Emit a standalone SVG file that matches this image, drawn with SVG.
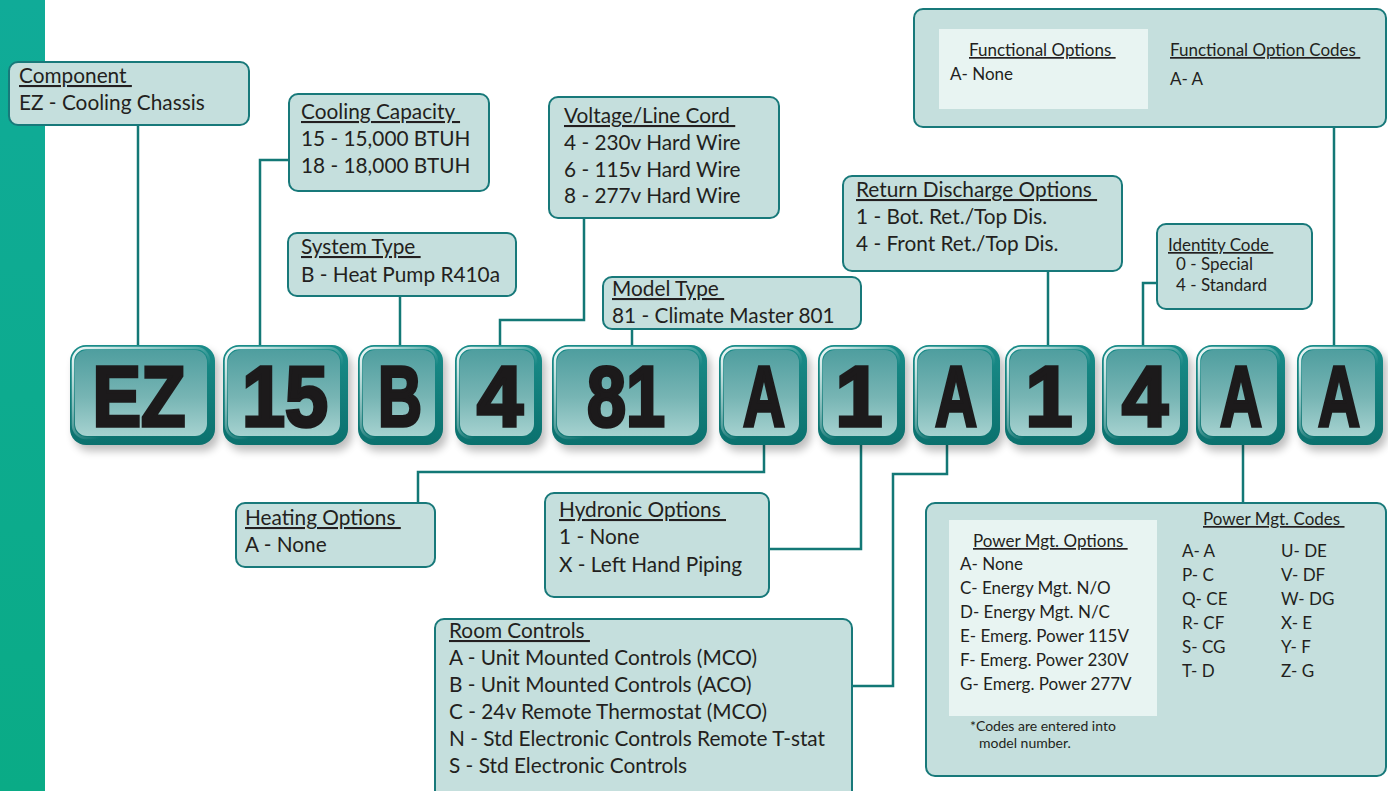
<svg xmlns="http://www.w3.org/2000/svg" width="1388" height="791" viewBox="0 0 1388 791">
<defs>
<linearGradient id="strip" x1="0" y1="0" x2="0" y2="1"><stop offset="0" stop-color="#10ab98"/><stop offset="1" stop-color="#0aab86"/></linearGradient>
<linearGradient id="rim" x1="0" y1="0" x2="0" y2="1"><stop offset="0" stop-color="#1a8c89"/><stop offset="1" stop-color="#0b716e"/></linearGradient>
<linearGradient id="face" x1="0" y1="0" x2="0" y2="1"><stop offset="0" stop-color="#4f9e9f"/><stop offset="0.55" stop-color="#77b5b4"/><stop offset="1" stop-color="#a6d2d0"/></linearGradient>
<linearGradient id="hl" x1="0" y1="0" x2="1" y2="1"><stop offset="0" stop-color="#ffffff" stop-opacity="0.95"/><stop offset="0.35" stop-color="#ffffff" stop-opacity="0.45"/><stop offset="0.6" stop-color="#ffffff" stop-opacity="0"/></linearGradient>
<filter id="sh" x="-20%" y="-20%" width="140%" height="150%"><feGaussianBlur stdDeviation="4"/></filter>
</defs>
<style>
.box{fill:#c5dfdd;stroke:#18797a;stroke-width:2}
.inner{fill:#e8f4f2}
.t{font-family:Lato,"Liberation Sans",sans-serif;font-size:20.8px;fill:#231f20}
.s{font-size:17px}
.xs{font-size:14px}
.u{text-decoration:underline}
.con{fill:none;stroke:#137876;stroke-width:2.5}
.shadow{fill:#000;opacity:0.26;filter:url(#sh)}
.rim{fill:url(#rim)}
.face{fill:url(#face)}
.hl{fill:none;stroke:url(#hl);stroke-width:2.5}
.L{font-family:"Liberation Sans",Arial,sans-serif;font-weight:bold;font-size:85px;fill:#1c1a1b;stroke:#1c1a1b;stroke-width:3.5;stroke-linejoin:miter;text-anchor:middle}
</style>
<rect x="0" y="0" width="1388" height="791" fill="#ffffff"/>
<rect x="0" y="0" width="45" height="791" fill="url(#strip)"/>

<g id="connectors">
<path class="con" d="M138 125V346"/>
<path class="con" d="M289 160H260V346"/>
<path class="con" d="M400 296V346"/>
<path class="con" d="M584 218V320H500V346"/>
<path class="con" d="M632 329V346"/>
<path class="con" d="M1048 271V346"/>
<path class="con" d="M1157 283H1143V346"/>
<path class="con" d="M1334 127V346"/>
<path class="con" d="M764 445V472H418V503"/>
<path class="con" d="M861 445V549H769"/>
<path class="con" d="M947 445V474H893V686H852"/>
<path class="con" d="M1243 445V503"/>
</g>

<g id="tiles">
<g id="tile-EZ"><rect class="shadow" x="74" y="351" width="145" height="100" rx="16"/><rect class="rim" x="70" y="345" width="145" height="100" rx="16"/><rect class="face" x="75" y="350" width="132" height="86" rx="12"/><rect class="hl" x="73" y="348" width="136" height="90" rx="13"/><text class="L" x="139" y="426" textLength="93" lengthAdjust="spacingAndGlyphs">EZ</text></g>
<g id="tile-15"><rect class="shadow" x="227" y="351" width="125" height="100" rx="16"/><rect class="rim" x="223" y="345" width="125" height="100" rx="16"/><rect class="face" x="228" y="350" width="112" height="86" rx="12"/><rect class="hl" x="226" y="348" width="116" height="90" rx="13"/><text class="L" x="285" y="426" textLength="86" lengthAdjust="spacingAndGlyphs">15</text></g>
<g id="tile-B"><rect class="shadow" x="362" y="351" width="85" height="100" rx="16"/><rect class="rim" x="358" y="345" width="85" height="100" rx="16"/><rect class="face" x="363" y="350" width="72" height="86" rx="12"/><rect class="hl" x="361" y="348" width="76" height="90" rx="13"/><text class="L" x="400" y="426" textLength="44" lengthAdjust="spacingAndGlyphs">B</text></g>
<g id="tile-4a"><rect class="shadow" x="459" y="351" width="87" height="100" rx="16"/><rect class="rim" x="455" y="345" width="87" height="100" rx="16"/><rect class="face" x="460" y="350" width="74" height="86" rx="12"/><rect class="hl" x="458" y="348" width="78" height="90" rx="13"/><text class="L" x="500" y="426" textLength="46" lengthAdjust="spacingAndGlyphs">4</text></g>
<g id="tile-81"><rect class="shadow" x="556" y="351" width="155" height="100" rx="16"/><rect class="rim" x="552" y="345" width="155" height="100" rx="16"/><rect class="face" x="557" y="350" width="142" height="86" rx="12"/><rect class="hl" x="555" y="348" width="146" height="90" rx="13"/><text class="L" x="626" y="426" textLength="78" lengthAdjust="spacingAndGlyphs">81</text></g>
<g id="tile-A1"><rect class="shadow" x="723" y="351" width="88" height="100" rx="16"/><rect class="rim" x="719" y="345" width="88" height="100" rx="16"/><rect class="face" x="724" y="350" width="75" height="86" rx="12"/><rect class="hl" x="722" y="348" width="79" height="90" rx="13"/><text class="L" x="764" y="426" textLength="42" lengthAdjust="spacingAndGlyphs">A</text></g>
<g id="tile-1a"><rect class="shadow" x="822" y="351" width="87" height="100" rx="16"/><rect class="rim" x="818" y="345" width="87" height="100" rx="16"/><rect class="face" x="823" y="350" width="74" height="86" rx="12"/><rect class="hl" x="821" y="348" width="78" height="90" rx="13"/><text class="L" x="859" y="426">1</text></g>
<g id="tile-A2"><rect class="shadow" x="917" y="351" width="87" height="100" rx="16"/><rect class="rim" x="913" y="345" width="87" height="100" rx="16"/><rect class="face" x="918" y="350" width="74" height="86" rx="12"/><rect class="hl" x="916" y="348" width="78" height="90" rx="13"/><text class="L" x="956" y="426" textLength="42" lengthAdjust="spacingAndGlyphs">A</text></g>
<g id="tile-1b"><rect class="shadow" x="1009" y="351" width="90" height="100" rx="16"/><rect class="rim" x="1005" y="345" width="90" height="100" rx="16"/><rect class="face" x="1010" y="350" width="77" height="86" rx="12"/><rect class="hl" x="1008" y="348" width="81" height="90" rx="13"/><text class="L" x="1049" y="426">1</text></g>
<g id="tile-4b"><rect class="shadow" x="1106" y="351" width="86" height="100" rx="16"/><rect class="rim" x="1102" y="345" width="86" height="100" rx="16"/><rect class="face" x="1107" y="350" width="73" height="86" rx="12"/><rect class="hl" x="1105" y="348" width="77" height="90" rx="13"/><text class="L" x="1145" y="426" textLength="46" lengthAdjust="spacingAndGlyphs">4</text></g>
<g id="tile-A3"><rect class="shadow" x="1200" y="351" width="89" height="100" rx="16"/><rect class="rim" x="1196" y="345" width="89" height="100" rx="16"/><rect class="face" x="1201" y="350" width="76" height="86" rx="12"/><rect class="hl" x="1199" y="348" width="80" height="90" rx="13"/><text class="L" x="1241" y="426" textLength="42" lengthAdjust="spacingAndGlyphs">A</text></g>
<g id="tile-A4"><rect class="shadow" x="1301" y="351" width="86" height="100" rx="16"/><rect class="rim" x="1297" y="345" width="86" height="100" rx="16"/><rect class="face" x="1302" y="350" width="73" height="86" rx="12"/><rect class="hl" x="1300" y="348" width="77" height="90" rx="13"/><text class="L" x="1339" y="426" textLength="42" lengthAdjust="spacingAndGlyphs">A</text></g>
</g>

<g id="component"><rect class="box" x="9" y="62" width="240" height="63" rx="9"/>
<text class="t" x="19" y="83"><tspan class="u">Component&#160;</tspan></text>
<text class="t" x="19" y="110">EZ - Cooling Chassis</text></g>

<g id="cooling-capacity"><rect class="box" x="289" y="94" width="200" height="97" rx="9"/>
<text class="t" x="301" y="119"><tspan class="u">Cooling Capacity&#160;</tspan></text>
<text class="t" x="301" y="146">15 - 15,000 BTUH</text>
<text class="t" x="301" y="173">18 - 18,000 BTUH</text></g>

<g id="system-type"><rect class="box" x="288" y="233" width="228" height="63" rx="9"/>
<text class="t" x="301" y="254"><tspan class="u">System Type&#160;</tspan></text>
<text class="t" x="301" y="282">B - Heat Pump R410a</text></g>

<g id="voltage"><rect class="box" x="549" y="97" width="230" height="121" rx="9"/>
<text class="t" x="564" y="123"><tspan class="u">Voltage/Line Cord&#160;</tspan></text>
<text class="t" x="564" y="150">4 - 230v Hard Wire</text>
<text class="t" x="564" y="177">6 - 115v Hard Wire</text>
<text class="t" x="564" y="203">8 - 277v Hard Wire</text></g>

<g id="model-type"><rect class="box" x="603" y="277" width="258" height="52" rx="9"/>
<text class="t" x="612" y="296"><tspan class="u">Model Type&#160;</tspan></text>
<text class="t" x="612" y="323">81 - Climate Master 801</text></g>

<g id="return-discharge"><rect class="box" x="843" y="176" width="279" height="95" rx="9"/>
<text class="t" x="856" y="197"><tspan class="u">Return Discharge Options&#160;</tspan></text>
<text class="t" x="856" y="224">1 - Bot. Ret./Top Dis.</text>
<text class="t" x="856" y="251">4 - Front Ret./Top Dis.</text></g>

<g id="identity-code"><rect class="box" x="1157" y="224" width="155" height="85" rx="9"/>
<text class="t s" x="1168" y="251"><tspan class="u">Identity Code&#160;</tspan></text>
<text class="t s" x="1176" y="270">0 - Special</text>
<text class="t s" x="1176" y="291">4 - Standard</text></g>

<g id="functional-options"><rect class="box" x="914" y="9" width="472" height="118" rx="9"/>
<rect class="inner" x="939" y="29" width="209" height="80"/>
<text class="t s" x="969" y="56"><tspan class="u">Functional Options&#160;</tspan></text>
<text class="t s" x="950" y="80">A- None</text>
<text class="t s" x="1170" y="56"><tspan class="u">Functional Option Codes&#160;</tspan></text>
<text class="t s" x="1170" y="85">A- A</text></g>

<g id="heating-options"><rect class="box" x="236" y="503" width="199" height="64" rx="9"/>
<text class="t" x="245" y="525"><tspan class="u">Heating Options&#160;</tspan></text>
<text class="t" x="245" y="552">A - None</text></g>

<g id="hydronic-options"><rect class="box" x="545" y="493" width="224" height="104" rx="9"/>
<text class="t" x="559" y="517"><tspan class="u">Hydronic Options&#160;</tspan></text>
<text class="t" x="559" y="544">1 - None</text>
<text class="t" x="559" y="572">X - Left Hand Piping</text></g>

<g id="room-controls"><rect class="box" x="435" y="619" width="417" height="190" rx="9"/>
<text class="t" x="449" y="638"><tspan class="u">Room Controls&#160;</tspan></text>
<text class="t" x="449" y="665">A - Unit Mounted Controls (MCO)</text>
<text class="t" x="449" y="692">B - Unit Mounted Controls (ACO)</text>
<text class="t" x="449" y="719">C - 24v Remote Thermostat (MCO)</text>
<text class="t" x="449" y="746">N - Std Electronic Controls Remote T-stat</text>
<text class="t" x="449" y="773">S - Std Electronic Controls</text></g>

<g id="power-mgt"><rect class="box" x="926" y="503" width="460" height="273" rx="9"/>
<rect class="inner" x="949" y="520" width="208" height="196"/>
<text class="t s" x="973" y="547"><tspan class="u">Power Mgt. Options&#160;</tspan></text>
<text class="t s" x="960" y="570">A- None</text>
<text class="t s" x="960" y="594">C- Energy Mgt. N/O</text>
<text class="t s" x="960" y="618">D- Energy Mgt. N/C</text>
<text class="t s" x="960" y="642">E- Emerg. Power 115V</text>
<text class="t s" x="960" y="666">F- Emerg. Power 230V</text>
<text class="t s" x="960" y="690">G- Emerg. Power 277V</text>
<text class="t xs" x="970" y="731">*Codes are entered into</text>
<text class="t xs" x="979" y="748">model number.</text>
<text class="t s" x="1203" y="525"><tspan class="u">Power Mgt. Codes&#160;</tspan></text>
<text class="t s" x="1182" y="557">A- A</text>
<text class="t s" x="1182" y="581">P- C</text>
<text class="t s" x="1182" y="605">Q- CE</text>
<text class="t s" x="1182" y="629">R- CF</text>
<text class="t s" x="1182" y="653">S- CG</text>
<text class="t s" x="1182" y="677">T- D</text>
<text class="t s" x="1281" y="557">U- DE</text>
<text class="t s" x="1281" y="581">V- DF</text>
<text class="t s" x="1281" y="605">W- DG</text>
<text class="t s" x="1281" y="629">X- E</text>
<text class="t s" x="1281" y="653">Y- F</text>
<text class="t s" x="1281" y="677">Z- G</text></g>
</svg>
